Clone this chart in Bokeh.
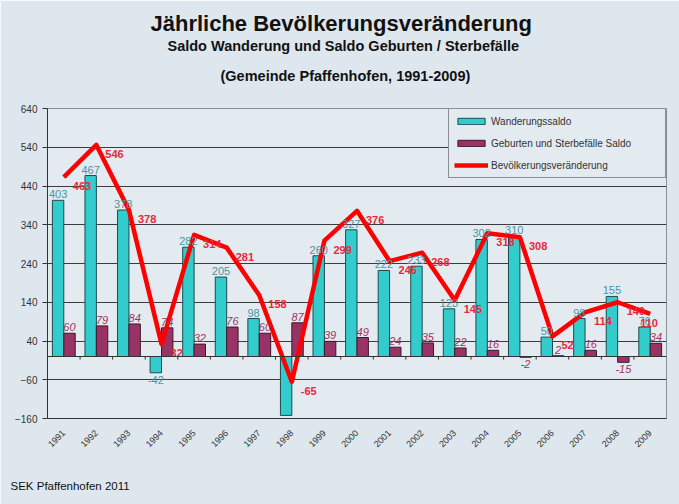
import math
from bokeh.plotting import figure
from bokeh.models import (ColumnDataSource, Span, FixedTicker, Legend, LegendItem, Title)
from bokeh.embed import file_html
from bokeh.resources import INLINE
from bokeh.core.properties import value

# ---------------- data ----------------
years = [str(y) for y in range(1991, 2010)]
wanderung = [403, 467, 378, -42, 282, 205, 98, -152, 260, 327, 222, 233, 123, 302, 310, 50, 98, 155, 76]
geburten = [60, 79, 84, 74, 32, 76, 60, 87, 39, 49, 24, 35, 22, 16, -2, 2, 16, -15, 34]
veraenderung = [463, 546, 378, 32, 314, 281, 158, -65, 299, 376, 246, 268, 145, 318, 308, 52, 114, 140, 110]
y_ticks = [-160, -60, 40, 140, 240, 340, 440, 540, 640]

title_main = "Jährliche Bevölkerungsveränderung"
title_sub = "Saldo Wanderung und Saldo Geburten / Sterbefälle"
title_area = "(Gemeinde Pfaffenhofen, 1991-2009)"
footer = "SEK Pfaffenhofen 2011"
legend_labels = ["Wanderungssaldo", "Geburten und Sterbefälle Saldo", "Bevölkerungsveränderung"]

# ---------------- style ----------------
FONT = "Liberation Sans"
BG = "#dfe7ee"
PLOT_BG = "#e3eaf0"
TEAL = "#33CCCC"
PURPLE = "#993366"
RED = "#FF0000"
BAR_W = 0.35

W, H = 679, 504
ML, MR, MT, MB = 47, 13, 108, 86

n = len(years)
xs = list(range(n))
x_teal = [i - BAR_W / 2 for i in xs]
x_purp = [i + BAR_W / 2 for i in xs]

p = figure(width=W, height=H, x_range=(-0.5, n - 0.5), y_range=(y_ticks[0], y_ticks[-1]),
           output_backend="svg", toolbar_location=None, title=None,
           min_border_left=ML, min_border_right=MR, min_border_top=MT, min_border_bottom=MB)
p.border_fill_color = BG
p.background_fill_color = PLOT_BG
p.outline_line_color = "#8a8f94"
p.outline_line_width = 1

# axes
p.yaxis.ticker = FixedTicker(ticks=y_ticks)
p.yaxis.major_label_text_font = FONT
p.yaxis.major_label_text_font_size = "10px"
p.yaxis.major_label_text_color = "#333333"
p.yaxis.axis_line_color = "#333333"
p.yaxis.major_tick_line_color = "#333333"
p.yaxis.major_tick_out = 5
p.yaxis.major_tick_in = 0
p.yaxis.minor_tick_line_color = None
p.yaxis.major_label_standoff = 5

p.xaxis.ticker = FixedTicker(ticks=xs)
p.xaxis.major_label_overrides = {i: y for i, y in zip(xs, years)}
p.xaxis.major_label_orientation = math.pi / 4
p.xaxis.major_label_text_font = FONT
p.xaxis.major_label_text_font_size = "9px"
p.xaxis.major_label_text_color = "#333333"
p.xaxis.axis_line_color = "#333333"
p.xaxis.major_tick_line_color = None
p.xaxis.minor_tick_line_color = None
p.xaxis.major_label_standoff = 7

p.xgrid.grid_line_color = None
p.ygrid.ticker = FixedTicker(ticks=y_ticks)
p.ygrid.grid_line_color = "#3c3c3c"
p.ygrid.grid_line_width = 1

# zero line with category ticks
p.add_layout(Span(location=0, dimension="width", line_color="#333333", line_width=1))
bounds = [i + 0.5 for i in xs[:-1]]
p.segment(x0=bounds, y0=[0] * len(bounds), x1=bounds, y1=[-8] * len(bounds),
          line_color="#333333", line_width=1)

# bars and line
src = ColumnDataSource(dict(xt=x_teal, xp=x_purp, x=xs, w=wanderung, g=geburten, v=veraenderung))
r_teal = p.vbar(x="xt", top="w", bottom=0, width=BAR_W, source=src,
                fill_color=TEAL, line_color="#1e4a50", line_width=1)
r_purp = p.vbar(x="xp", top="g", bottom=0, width=BAR_W, source=src,
                fill_color=PURPLE, line_color="#3a1a2a", line_width=1)
r_line = p.line(x="x", y="v", source=src, line_color=RED, line_width=4.5, line_join="round")

# data labels
def put_labels(xv, yv, color, style):
    pos = [(x, y) for x, y in zip(xv, yv) if y >= 0]
    neg = [(x, y) for x, y in zip(xv, yv) if y < 0]
    if pos:
        p.text(x=[a for a, b in pos], y=[b for a, b in pos], text=[str(b) for a, b in pos],
               text_align="center", text_baseline="bottom", y_offset=-2,
               text_font=value(FONT), text_font_size="11px", text_color=color, text_font_style=style)
    if neg:
        p.text(x=[a for a, b in neg], y=[b for a, b in neg], text=[str(b) for a, b in neg],
               text_align="center", text_baseline="top", y_offset=3,
               text_font=value(FONT), text_font_size="11px", text_color=color, text_font_style=style)

put_labels(x_teal, wanderung, "#4a95a5", "normal")
put_labels(x_purp, geburten, "#a0345f", "italic")

red_dx = [9] * (n - 1) + [-10]
p.text(x=xs, y=veraenderung, text=[str(v) for v in veraenderung], x_offset=red_dx,
       text_align="left", text_baseline="middle", y_offset=9,
       text_font=value(FONT), text_font_size="11px", text_color="#e8283c", text_font_style="bold")

# legend
legend = Legend(items=[LegendItem(label=legend_labels[0], renderers=[r_teal]),
                       LegendItem(label=legend_labels[1], renderers=[r_purp]),
                       LegendItem(label=legend_labels[2], renderers=[r_line])],
                location="top_right", margin=0, padding=5, spacing=8,
                glyph_width=34, glyph_height=8, label_height=14, label_width=169,
                label_standoff=3, label_text_font=FONT, label_text_font_size="10px",
                label_text_color="#333333", background_fill_color=PLOT_BG, background_fill_alpha=1,
                border_line_color="#333333", border_line_width=1)
p.add_layout(legend)

# titles (panels are stacked from the frame outward)
def spacer(gap, side):
    p.add_layout(Title(text=" ", text_font_size="1px", standoff=gap, text_color=BG), side)

def title(text, size, off, side="above", bold=True, s=0):
    p.add_layout(Title(text=text, align="left", text_font=FONT, text_font_size=size,
                       text_font_style="bold" if bold else "normal", text_color="#111111",
                       standoff=s, offset=off), side)

spacer(22, "above")
title(title_area, "14.5px", 173)
spacer(9, "above")
title(title_sub, "14.5px", 120)
title(title_main, "22px", 103)

# footer
spacer(17, "below")
title(footer, "11.5px", -37, side="below", bold=False, s=11)

open("out.html", "w").write(file_html(p, INLINE))
